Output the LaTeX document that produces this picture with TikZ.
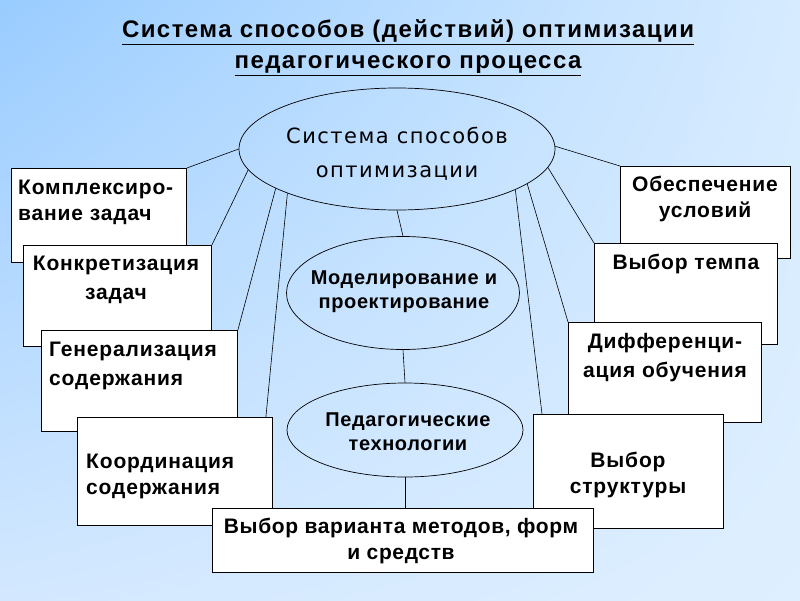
\documentclass[tikz,border=0pt]{standalone}
\usepackage{fontspec}
\setmainfont{Liberation Sans}
\newfontfamily\boxface[LetterSpace=4]{Liberation Sans}
\newfontfamily\ovalface[LetterSpace=3]{Liberation Sans}
\newfontfamily\headface[LetterSpace=6]{Liberation Sans}
\newfontfamily\wideface[LetterSpace=7]{DejaVu Sans}
\usetikzlibrary{shapes.geometric,shadings}

\definecolor{bgtl}{RGB}{153,204,255}
\definecolor{bgtr}{RGB}{214,235,255}
\definecolor{bgbl}{RGB}{211,232,255}
\definecolor{bgbr}{RGB}{222,239,255}

\begin{document}
\begin{tikzpicture}[
  x=1pt, y=-1pt,
  box/.style={draw,fill=white,line width=0.9pt,anchor=north west,inner sep=0pt},
  oval/.style={draw,ellipse,line width=0.7pt,inner sep=0pt},
  txt/.style={inner sep=0pt,font=\boxface\fontsize{21}{26}\selectfont\bfseries},
  ovaltxt/.style={inner sep=0pt,align=center,font=\ovalface\fontsize{20}{24}\selectfont\bfseries},
  link/.style={line width=0.6pt}
]
\useasboundingbox (0,0) rectangle (800,600);
\shade[upper left=bgtl,upper right=bgtr,lower left=bgbl,lower right=bgbr]
  (0,0) rectangle (800,600);

% title
\node[inner sep=0pt,align=center,font=\headface\fontsize{24}{31}\selectfont\bfseries] (title) at (408,48)
  {\underline{Система способов (действий) оптимизации}\\\underline{педагогического процесса}};

% ovals in the middle
\node[oval,minimum width=316pt,minimum height=122pt] (sys) at (397,149) {};
\node[inner sep=0pt,align=center,font=\wideface\fontsize{21}{34}\selectfont] (sys-t) at (397,154)
  {Система способов\\оптимизации};
\node[oval,minimum width=233pt,minimum height=113pt] (model) at (403,293) {};
\node[ovaltxt] (model-t) at (404,292) {Моделирование и\\проектирование};
\node[oval,minimum width=236pt,minimum height=94pt] (tech) at (405,430) {};
\node[ovaltxt] (tech-t) at (408,432) {Педагогические\\технологии};

% left boxes
\node[box,minimum width=175pt,minimum height=94pt] (kompl) at (11,168) {};
\node[txt,anchor=west,align=left] (kompl-t) at (18,202) {Комплексиро-\\вание задач};
\node[box,minimum width=188pt,minimum height=101pt] (konkr) at (23,245) {};
\node[txt,align=center] (konkr-t) at (116,280) {Конкретизация\\[3pt]задач};
\node[box,minimum width=196pt,minimum height=101pt] (gener) at (41,330) {};
\node[txt,anchor=west,align=left] (gener-t) at (49,366) {Генерализация\\[3pt]содержания};
\node[box,minimum width=195pt,minimum height=108pt] (koord) at (77,417) {};
\node[txt,anchor=west,align=left] (koord-t) at (86,476) {Координация\\содержания};

% right boxes
\node[box,minimum width=170pt,minimum height=92pt] (obesp) at (620,166) {};
\node[txt,align=center] (obesp-t) at (705,199) {Обеспечение\\условий};
\node[box,minimum width=183pt,minimum height=101pt] (temp) at (594,243) {};
\node[txt,align=center] (temp-t) at (686,264) {Выбор темпа};
\node[box,minimum width=193pt,minimum height=100pt] (diff) at (568,322) {};
\node[txt,align=center] (diff-t) at (665,358) {Дифференци-\\[3pt]ация обучения};
\node[box,minimum width=190pt,minimum height=114pt] (struct) at (533,414) {};
\node[txt,align=center] (struct-t) at (628,475) {Выбор\\структуры};

% bottom box
\node[box,minimum width=381pt,minimum height=64pt] (variant) at (212,508) {};
\node[txt,align=center,font=\ovalface\fontsize{21}{26}\selectfont\bfseries] (variant-t) at (401,541)
  {Выбор варианта методов, форм\\и средств};

% links
\draw[link] (sys.180) -- (kompl.north east);
\draw[link] (sys.188) -- (konkr.north east);
\draw[link] (sys.198) -- (gener.north east);
\draw[link] (sys.202) -- ([xshift=-7pt]koord.north east);
\draw[link] (sys.1) -- (obesp.north west);
\draw[link] (sys.353) -- (temp.north west);
\draw[link] (sys.345) -- (diff.north west);
\draw[link] (sys.341) -- ([xshift=9pt]struct.north west);
\draw[link] (sys.south) -- (model.north);
\draw[link] (model.south) -- (tech.north);
\draw[link] (tech.south) -- (tech.south |- variant.north);
\end{tikzpicture}
\end{document}
